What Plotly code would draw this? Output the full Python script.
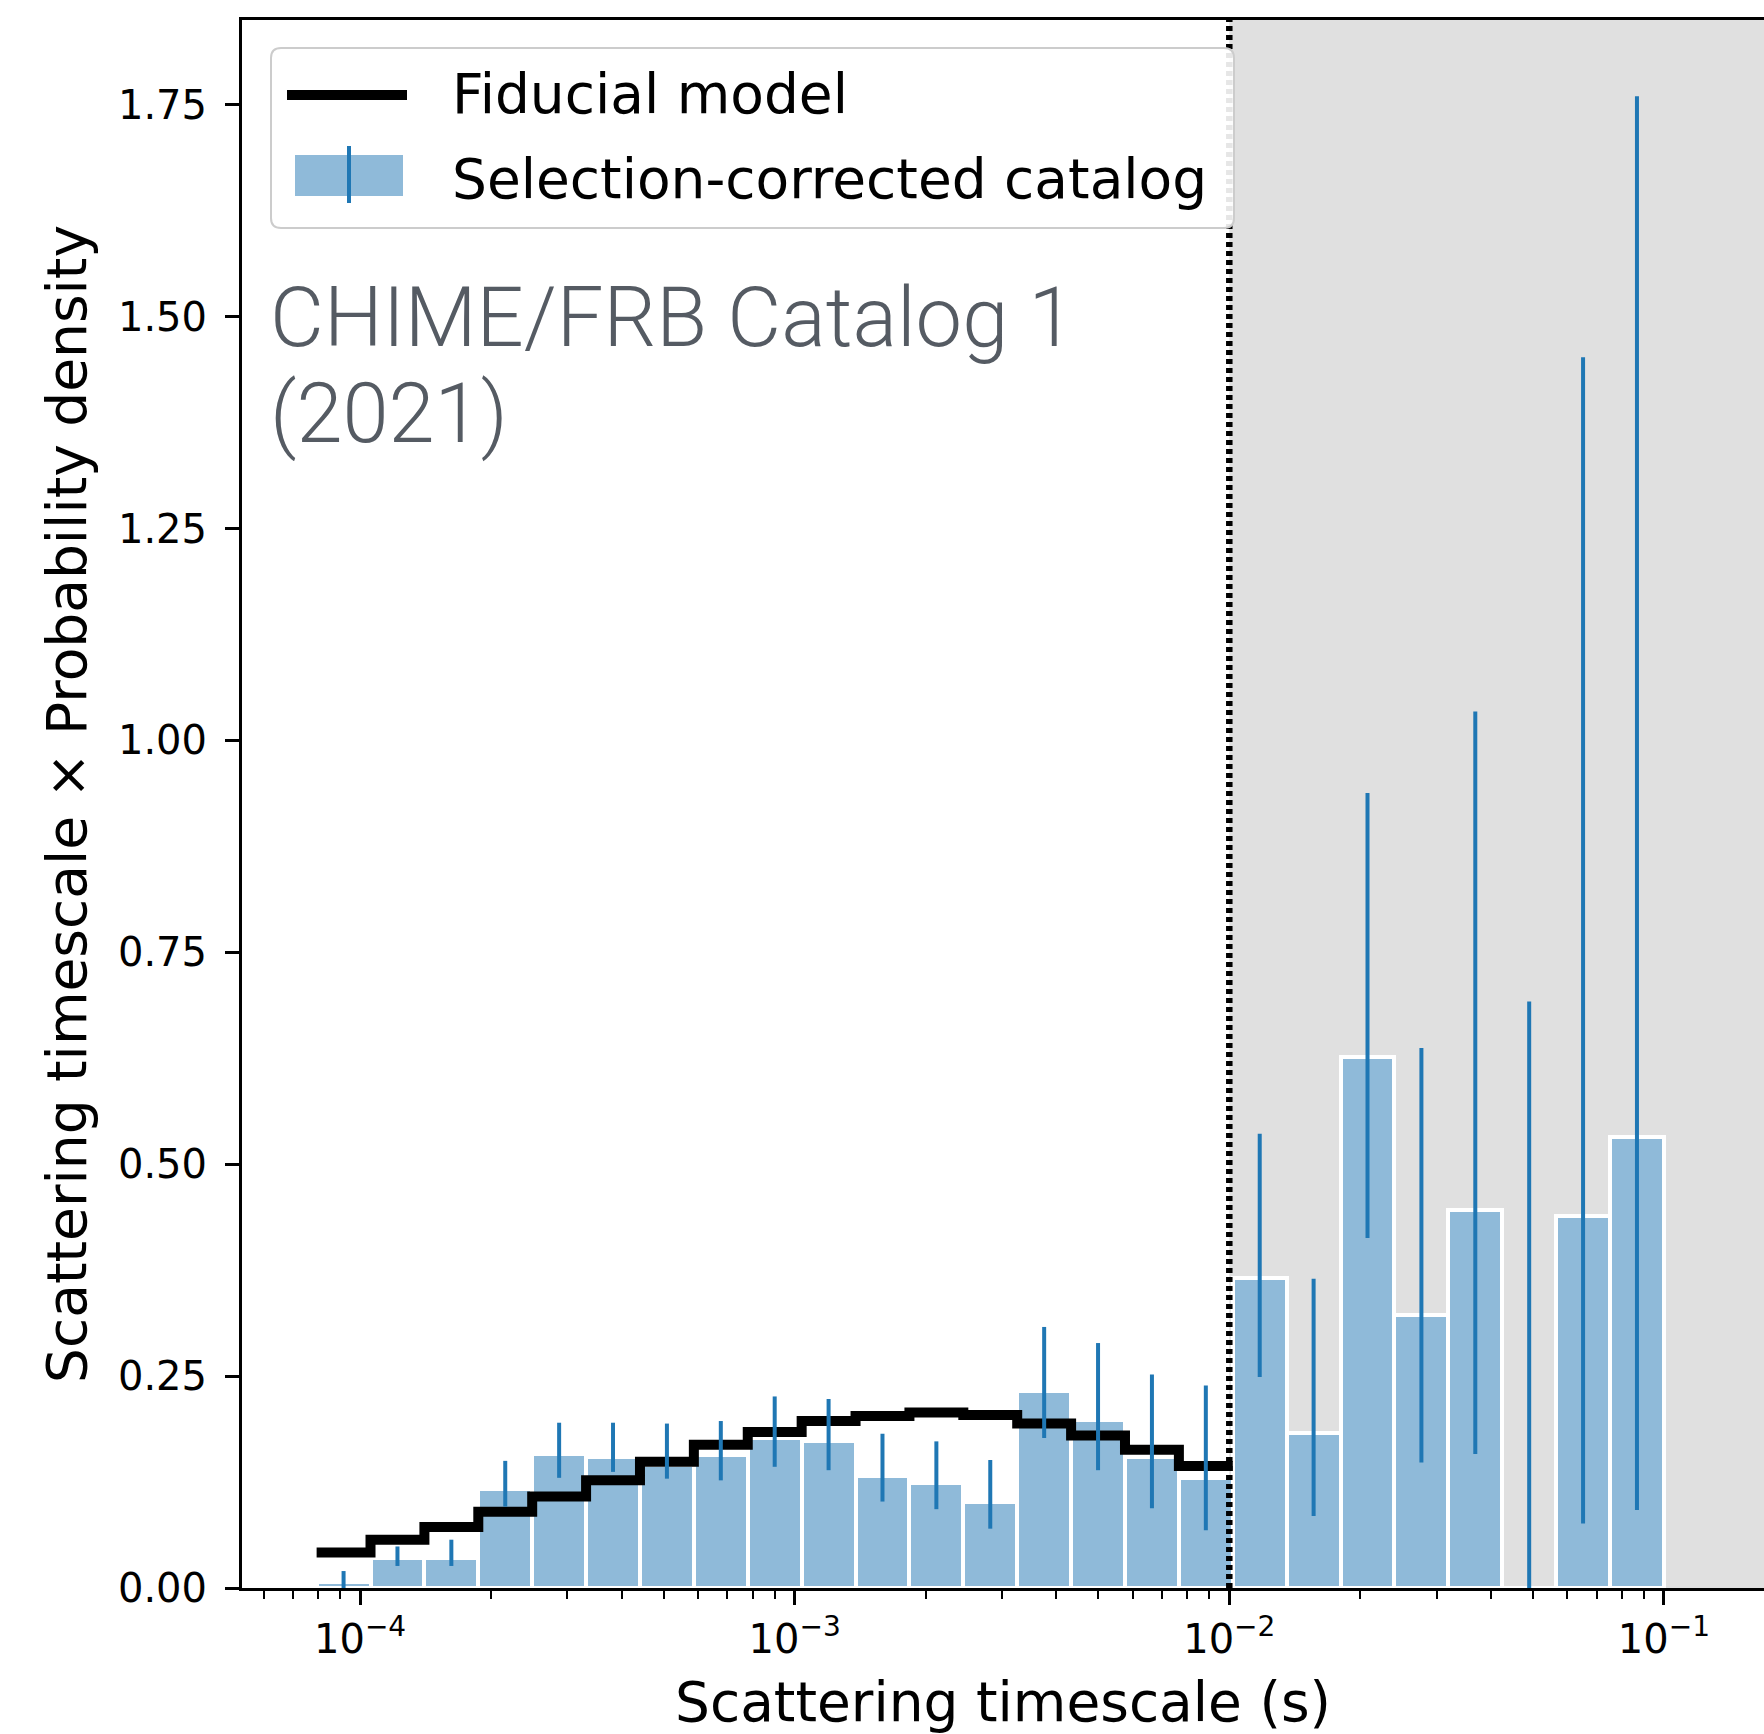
import numpy as np
import plotly.graph_objects as go

# ---- data -------------------------------------------------------------
# 25 logarithmic scattering-timescale bins between 10^-4.1 s and 10^-1 s
bin_edges = np.logspace(-4.1, -1.0, 26)

# selection-corrected catalog: tau x p(tau) per bin, with 1-sigma range
catalog_density = [0.007, 0.035, 0.035, 0.117, 0.158, 0.154, 0.145, 0.157,
                   0.177, 0.173, 0.132, 0.124, 0.101, 0.233, 0.198, 0.155,
                   0.130, 0.366, 0.183, 0.627, 0.322, 0.446, 0.000, 0.439,
                   0.532]
catalog_low = [0.000, 0.026, 0.026, 0.096, 0.130, 0.137, 0.129, 0.127,
               0.143, 0.139, 0.102, 0.093, 0.070, 0.177, 0.139, 0.094,
               0.068, 0.249, 0.085, 0.413, 0.148, 0.158, 0.000, 0.076,
               0.092]
catalog_high = [0.020, 0.049, 0.057, 0.150, 0.195, 0.195, 0.194, 0.197,
                0.226, 0.223, 0.182, 0.173, 0.151, 0.308, 0.289, 0.252,
                0.239, 0.536, 0.365, 0.938, 0.637, 1.034, 0.692, 1.452,
                1.760]

# fiducial model, tabulated on the first 17 bins (below the 10 ms limit)
model_density = [0.042, 0.057, 0.072, 0.090, 0.108, 0.127, 0.149, 0.169,
                 0.184, 0.197, 0.203, 0.207, 0.204, 0.194, 0.180, 0.163,
                 0.144]

completeness_limit = 1e-2   # s; scattering above this is poorly constrained

x_tick_vals = [1e-4, 1e-3, 1e-2, 1e-1]
x_tick_text = ["10<sup>\u22124</sup>", "10<sup>\u22123</sup>",
               "10<sup>\u22122</sup>", "10<sup>\u22121</sup>"]
y_tick_vals = [0.0, 0.25, 0.5, 0.75, 1.0, 1.25, 1.5, 1.75]
y_tick_text = ["%.2f" % v for v in y_tick_vals]

# ---- styling ------------------------------------------------------------
W, H = 1764, 1734
ML, MR, MT, MB = 242, 0, 20, 146
PW, PH = W - ML - MR, H - MT - MB
X_RANGE = [-4.2717, -0.7697]          # log10 seconds
Y_RANGE = [0.0, 1.85]

BAR_FILL = "#8fbad9"
ERR_BLUE = "#1f77b4"
SHADE = "#e0e0e0"
FONT = "DejaVu Sans"
SOURCE_FONT = dict(family="Roboto", size=83, weight=300, color="#555b63")


def xp(px):
    return (px - ML) / PW


def yp(py):
    return (H - MB - py) / PH


edges = np.asarray(bin_edges)
lo_e, hi_e = edges[:-1], edges[1:]
centers = np.sqrt(lo_e * hi_e)
dens = np.asarray(catalog_density)

fig = go.Figure()

# histogram bars spanning each bin exactly
fig.add_trace(go.Bar(
    x=centers, y=dens,
    offset=lo_e - centers, width=hi_e - lo_e,
    marker=dict(color=BAR_FILL, line=dict(color="white", width=4)),
    showlegend=False, hoverinfo="skip",
))

# fiducial model as a step curve over the bins
n_model = len(model_density)
fig.add_trace(go.Scatter(
    x=edges[:n_model + 1],
    y=list(model_density) + [model_density[-1]],
    mode="lines", line=dict(color="black", width=10, shape="hv"),
    showlegend=False, hoverinfo="skip",
))

# catalog uncertainty bars
fig.add_trace(go.Scatter(
    x=centers, y=dens, mode="markers",
    marker=dict(size=1, opacity=0),
    error_y=dict(type="data", symmetric=False,
                 array=np.asarray(catalog_high) - dens,
                 arrayminus=dens - np.asarray(catalog_low),
                 width=0, thickness=4, color=ERR_BLUE),
    showlegend=False, hoverinfo="skip",
))

shapes = [
    # region above the completeness limit
    dict(type="rect", xref="x", yref="y", layer="below",
         x0=completeness_limit, x1=10 ** X_RANGE[1],
         y0=Y_RANGE[0], y1=Y_RANGE[1],
         fillcolor=SHADE, line=dict(width=0)),
    dict(type="line", xref="x", yref="y", layer="above",
         x0=completeness_limit, x1=completeness_limit,
         y0=Y_RANGE[0], y1=Y_RANGE[1],
         line=dict(color="black", width=6.5, dash="5px,4px")),
]

# legend frame with rounded corners
bx0, by0, bx1, by1, r = 271, 48, 1234, 228, 10


def P(px, py):
    return "%.5f,%.5f" % (xp(px), yp(py))


frame = ("M " + P(bx0 + r, by0) + " L " + P(bx1 - r, by0) +
         " Q " + P(bx1, by0) + " " + P(bx1, by0 + r) +
         " L " + P(bx1, by1 - r) +
         " Q " + P(bx1, by1) + " " + P(bx1 - r, by1) +
         " L " + P(bx0 + r, by1) +
         " Q " + P(bx0, by1) + " " + P(bx0, by1 - r) +
         " L " + P(bx0, by0 + r) +
         " Q " + P(bx0, by0) + " " + P(bx0 + r, by0) + " Z")
shapes += [
    dict(type="path", xref="paper", yref="paper", layer="above", path=frame,
         fillcolor="rgba(255,255,255,0.9)", line=dict(color="#cccccc", width=2)),
    dict(type="line", xref="paper", yref="paper", layer="above",
         x0=xp(287), x1=xp(407), y0=yp(95), y1=yp(95),
         line=dict(color="black", width=10)),
    dict(type="rect", xref="paper", yref="paper", layer="above",
         x0=xp(295), x1=xp(403), y0=yp(155), y1=yp(196),
         fillcolor=BAR_FILL, line=dict(width=0)),
    dict(type="line", xref="paper", yref="paper", layer="above",
         x0=xp(349), x1=xp(349), y0=yp(146), y1=yp(203),
         line=dict(color=ERR_BLUE, width=4)),
]

annotations = [
    dict(text="Fiducial model", xref="paper", yref="paper",
         x=xp(450), y=yp(94), xanchor="left", yanchor="middle",
         showarrow=False, font=dict(family=FONT, size=55, color="black")),
    dict(text="Selection-corrected catalog", xref="paper", yref="paper",
         x=xp(450), y=yp(179), xanchor="left", yanchor="middle",
         showarrow=False, font=dict(family=FONT, size=55, color="black")),
    # data-source caption, two lines
    dict(text="CHIME/FRB Catalog 1", xref="paper", yref="paper",
         x=xp(268), y=yp(267), xanchor="left", yanchor="top",
         showarrow=False, font=SOURCE_FONT),
    dict(text="(2021)", xref="paper", yref="paper",
         x=xp(268), y=yp(363), xanchor="left", yanchor="top",
         showarrow=False, font=SOURCE_FONT),
]

minor_vals = [m * 10.0 ** e for e in range(-5, 0) for m in range(2, 10)
              if X_RANGE[0] < np.log10(m * 10.0 ** e) < X_RANGE[1]]

fig.update_layout(
    width=W, height=H,
    margin=dict(l=ML, r=MR, t=MT, b=MB, pad=0),
    paper_bgcolor="white", plot_bgcolor="white",
    showlegend=False, bargap=0,
    shapes=shapes, annotations=annotations,
    font=dict(family=FONT, color="black"),
    xaxis=dict(
        type="log", range=X_RANGE, showgrid=False, zeroline=False,
        showline=True, linecolor="black", linewidth=3, mirror=True,
        ticks="outside", ticklen=14, tickwidth=2.5, tickcolor="black",
        tickvals=x_tick_vals, ticktext=x_tick_text,
        tickfont=dict(family=FONT, size=40),
        minor=dict(ticks="outside", ticklen=8, tickwidth=2,
                   tickcolor="black", tickmode="array", tickvals=minor_vals,
                   showgrid=False),
        title=dict(text="Scattering timescale (s)",
                   font=dict(family=FONT, size=55), standoff=22),
    ),
    yaxis=dict(
        range=Y_RANGE, showgrid=False, zeroline=False,
        showline=True, linecolor="black", linewidth=3,
        ticks="outside", ticklen=14, tickwidth=2.5, tickcolor="black",
        tickvals=y_tick_vals, ticktext=y_tick_text,
        tickfont=dict(family=FONT, size=40), ticklabelstandoff=10,
        title=dict(text="Scattering timescale \u00d7 Probability density",
                   font=dict(family=FONT, size=55), standoff=14),
    ),
)

fig.write_html("out.html")
